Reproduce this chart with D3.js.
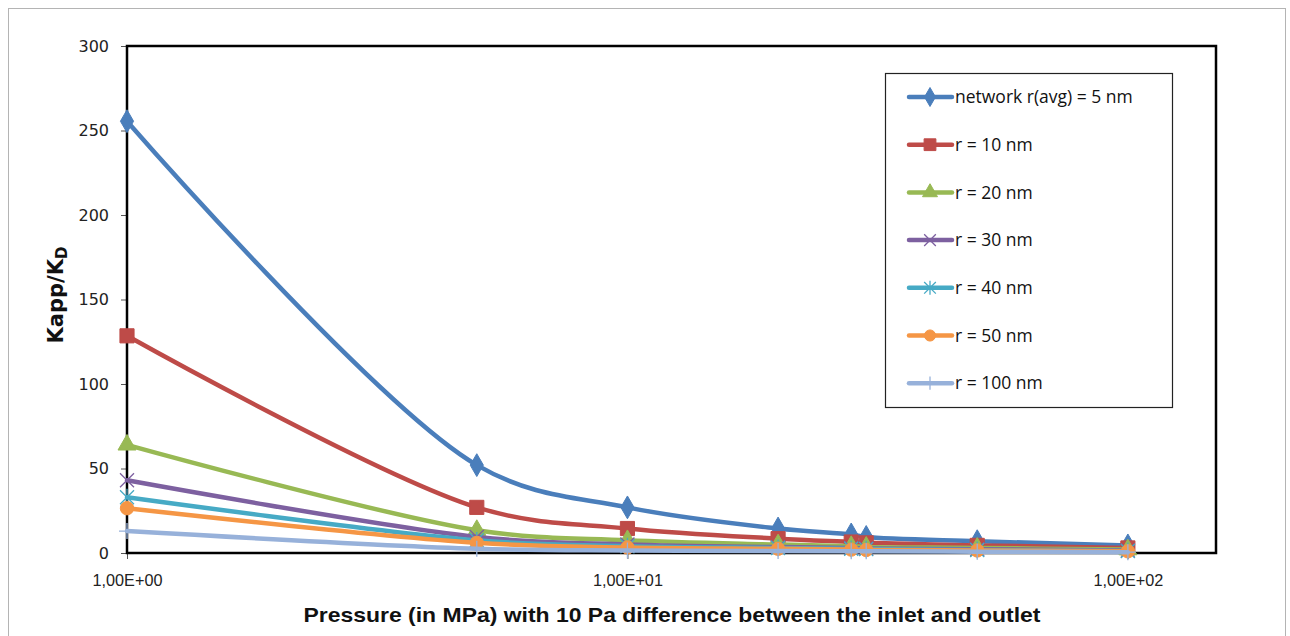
<!DOCTYPE html>
<html>
<head>
<meta charset="utf-8">
<script src="https://cdn.jsdelivr.net/npm/d3@7"></script>
<style>
  html, body { margin: 0; padding: 0; background: #fff; }
  svg { display: block; }
</style>
</head>
<body>
<svg id="chart" width="1290" height="636"></svg>
<script>
// Pressure points (MPa)
const pressures = [1, 5, 10, 20, 28, 30, 50, 100];

// Kapp/KD for each pore radius
const seriesNames = [
  "network r(avg) = 5 nm",
  "r = 10 nm",
  "r = 20 nm",
  "r = 30 nm",
  "r = 40 nm",
  "r = 50 nm",
  "r = 100 nm"
];
const net5  = [255.5, 52, 27, 14.5, 11, 9.5, 7, 4.5];
const r10   = [128.5, 27, 14.5, 8.5, 6.5, 6, 4.5, 3];
const r20   = [64, 13.5, 7.5, 5, 4, 3.6, 3, 2];
const r30   = [43, 9.5, 5, 3.5, 3, 2.7, 2.2, 1.5];
const r40   = [33, 7.5, 4, 3, 2.5, 2.3, 1.8, 1.2];
const r50   = [26.5, 6, 3.3, 2.5, 2, 1.8, 1.5, 1];
const r100  = [13, 2.5, 1.5, 1.2, 1, 1, 0.8, 0.5];

const yTicks = [0, 50, 100, 150, 200, 250, 300];
const xTicks = [1, 10, 100];
const xTickLabels = ["1,00E+00", "1,00E+01", "1,00E+02"];

const colors  = ["#4A7EBB", "#BE4B48", "#98B954", "#7D60A0", "#46AAC5", "#F59645", "#97B1DA"];
const markers = ["diamond", "square", "triangle", "x", "asterisk", "circle", "plus"];
const values  = [net5, r10, r20, r30, r40, r50, r100];

const svg = d3.select("#chart");

// outer chart frame
svg.append("rect")
  .attr("x", 8.5).attr("y", 8.5).attr("width", 1277).attr("height", 640)
  .attr("fill", "#fff").attr("stroke", "#b4b4b4").attr("stroke-width", 1);

const plot = { left: 127, right: 1216, top: 46, bottom: 553 };

const x = d3.scaleLog().domain([1, 150]).range([plot.left, plot.right]);
const y = d3.scaleLinear().domain([0, 300]).range([plot.bottom, plot.top]);

// y axis
const yAxis = svg.append("g")
  .attr("transform", `translate(${plot.left},0)`)
  .call(d3.axisLeft(y).tickValues(yTicks).tickSize(6).tickPadding(12));
yAxis.select(".domain").remove();
yAxis.selectAll(".tick line").attr("stroke", "#555").attr("stroke-width", 1);
yAxis.selectAll(".tick text")
  .attr("font-family", "'DejaVu Sans', sans-serif")
  .attr("font-size", 16).attr("fill", "#222");

// x axis
const xAxis = svg.append("g")
  .attr("transform", `translate(0,${plot.bottom})`)
  .call(d3.axisBottom(x).tickValues(xTicks).tickSize(6).tickPadding(15)
    .tickFormat((d, i) => xTickLabels[i]));
xAxis.select(".domain").remove();
xAxis.selectAll(".tick line").attr("stroke", "#555").attr("stroke-width", 1);
xAxis.selectAll(".tick text")
  .attr("font-family", "'Liberation Sans', Arial, sans-serif")
  .attr("font-size", 17).attr("fill", "#222")
  .attr("textLength", 70).attr("lengthAdjust", "spacingAndGlyphs");

// plot frame
svg.append("rect")
  .attr("x", plot.left).attr("y", plot.top)
  .attr("width", plot.right - plot.left).attr("height", plot.bottom - plot.top)
  .attr("fill", "none").attr("stroke", "#000").attr("stroke-width", 2.5);

// axis titles
svg.append("text")
  .attr("x", 672).attr("y", 622)
  .attr("text-anchor", "middle")
  .attr("font-family", "'Liberation Sans', Arial, sans-serif")
  .attr("font-weight", "bold").attr("font-size", 21).attr("fill", "#111")
  .attr("textLength", 737).attr("lengthAdjust", "spacingAndGlyphs")
  .text("Pressure (in MPa) with 10 Pa difference between the inlet and outlet");

const yTitle = svg.append("text")
  .attr("transform", "translate(63,295) rotate(-90)")
  .attr("text-anchor", "middle")
  .attr("font-family", "'DejaVu Sans', sans-serif")
  .attr("font-weight", "bold").attr("font-size", 21).attr("fill", "#111");
yTitle.append("tspan").text("Kapp/K");
yTitle.append("tspan").attr("font-size", 15).attr("dy", 4).text("D");

// marker drawing
function drawMarker(g, type, color, s) {
  const k = s / 12;
  if (type === "diamond") {
    g.append("path").attr("d", d3.symbol(d3.symbolDiamond, 150 * k * k)())
      .attr("fill", color).attr("stroke", color);
  } else if (type === "square") {
    g.append("path").attr("d", d3.symbol(d3.symbolSquare, 200 * k * k)())
      .attr("fill", color).attr("stroke", color);
  } else if (type === "triangle") {
    g.append("path").attr("d", d3.symbol(d3.symbolTriangle, 140 * k * k)())
      .attr("fill", color).attr("stroke", color);
  } else if (type === "circle") {
    g.append("path").attr("d", d3.symbol(d3.symbolCircle, 140 * k * k)())
      .attr("fill", color).attr("stroke", color);
  } else if (type === "x") {
    const h = 7 * k;
    g.append("path").attr("d", `M${-h},${-h}L${h},${h}M${-h},${h}L${h},${-h}`)
      .attr("stroke", color).attr("stroke-width", 1.3).attr("fill", "none");
  } else if (type === "asterisk") {
    const h = 7 * k;
    g.append("path").attr("d", `M${-h},${-h}L${h},${h}M${-h},${h}L${h},${-h}M0,${-h * 1.2}L0,${h * 1.2}`)
      .attr("stroke", color).attr("stroke-width", 1.3).attr("fill", "none");
  } else if (type === "plus") {
    const h = 8 * k;
    g.append("path").attr("d", `M${-h},0L${h},0M0,${-h}L0,${h}`)
      .attr("stroke", color).attr("stroke-width", 1.3).attr("fill", "none");
  }
}

const line = d3.line()
  .x(d => x(d[0]))
  .y(d => y(d[1]))
  .curve(d3.curveCatmullRom.alpha(0.5));

const seriesLayer = svg.append("g");
values.forEach((vals, si) => {
  const pts = pressures.map((p, i) => [p, vals[i]]);
  const g = seriesLayer.append("g");
  g.append("path")
    .attr("d", line(pts))
    .attr("fill", "none")
    .attr("stroke", colors[si])
    .attr("stroke-width", 4.5)
    .attr("stroke-linejoin", "round")
    .attr("stroke-linecap", "round");
  pts.forEach(d => {
    const m = g.append("g").attr("transform", `translate(${x(d[0])},${y(d[1])})`);
    drawMarker(m, markers[si], colors[si], 12);
  });
});

// legend
const legend = svg.append("g");
legend.append("rect")
  .attr("x", 885.5).attr("y", 73.5).attr("width", 287).attr("height", 334)
  .attr("fill", "#fff").attr("stroke", "#222").attr("stroke-width", 1.2);

seriesNames.forEach((name, i) => {
  const cy = 97 + i * 47.7;
  const item = legend.append("g");
  item.append("line")
    .attr("x1", 909).attr("x2", 952).attr("y1", cy).attr("y2", cy)
    .attr("stroke", colors[i]).attr("stroke-width", 4.5).attr("stroke-linecap", "round");
  const m = item.append("g").attr("transform", `translate(930,${cy})`);
  drawMarker(m, markers[i], colors[i], 10);
  item.append("text")
    .attr("x", 955).attr("y", cy).attr("dy", "0.35em")
    .attr("font-family", "'Open Sans', sans-serif")
    .attr("font-size", 17.5).attr("fill", "#111")
    .text(name);
});
</script>
</body>
</html>
